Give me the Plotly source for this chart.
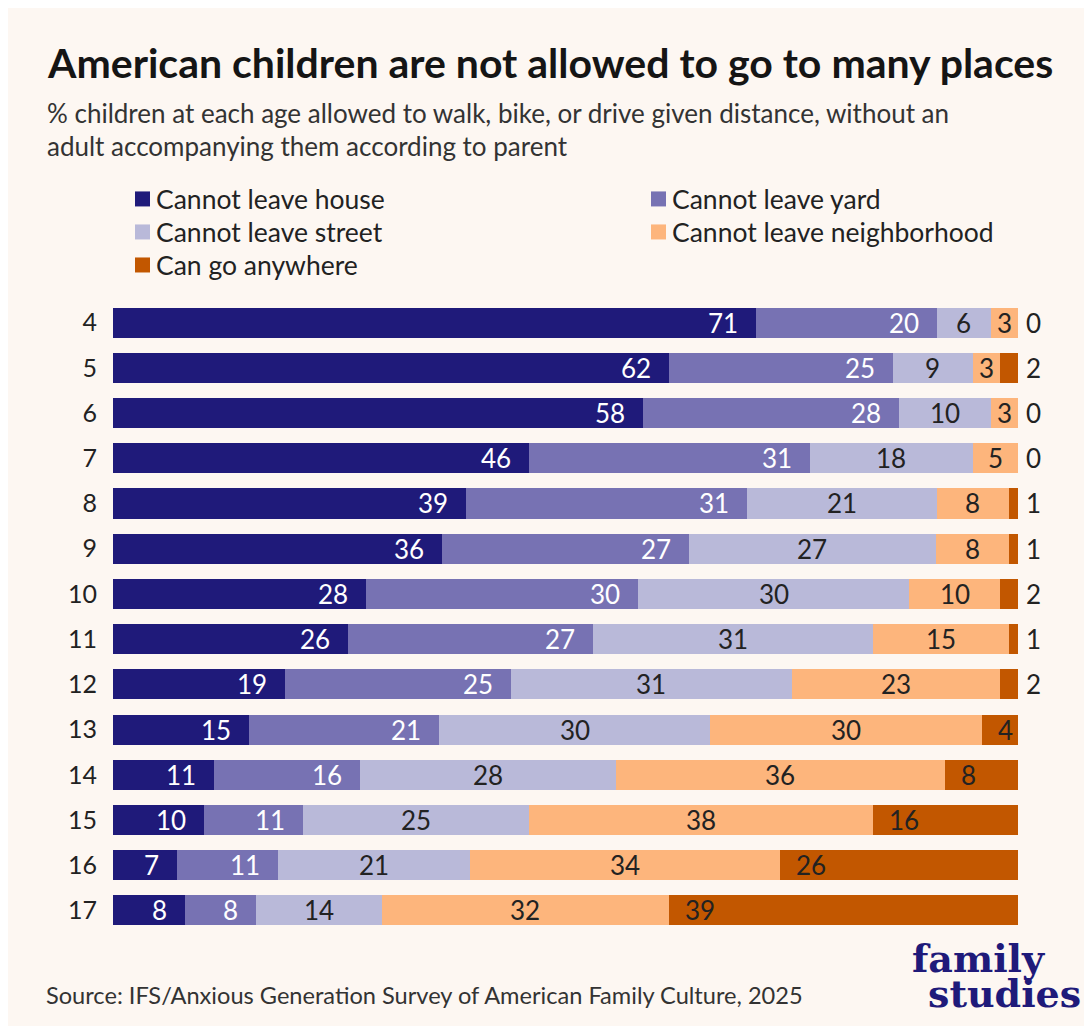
import plotly.graph_objects as go

# ---------------- data ----------------
ages = ["4", "5", "6", "7", "8", "9", "10", "11", "12", "13", "14", "15", "16", "17"]
house = [71, 62, 58, 46, 39, 36, 28, 26, 19, 15, 11, 10, 7, 8]
yard = [20, 25, 28, 31, 31, 27, 30, 27, 25, 21, 16, 11, 11, 8]
street = [6, 9, 10, 18, 21, 27, 30, 31, 31, 30, 28, 25, 21, 14]
neighborhood = [3, 3, 3, 5, 8, 8, 10, 15, 23, 30, 36, 38, 34, 32]
anywhere = [0, 2, 0, 0, 1, 1, 2, 1, 2, 4, 8, 16, 26, 39]

series_names = ["Cannot leave house", "Cannot leave yard", "Cannot leave street",
                "Cannot leave neighborhood", "Can go anywhere"]
series_values = [house, yard, street, neighborhood, anywhere]
colors = ["#1f1a7a", "#7772b3", "#b9b9d9", "#fdb57c", "#c25700"]
label_colors = ["#ffffff", "#ffffff", "#222222", "#222222", "#222222"]

title = "<b>American children are not allowed to go to many places</b>"
subtitle_lines = ["% children at each age allowed to walk, bike, or drive given distance, without an",
                  "adult accompanying them according to parent"]
source = "Source: IFS/Anxious Generation Survey of American Family Culture, 2025"

# ---------------- layout geometry ----------------
OFF = 8  # page offset of the figure (body margin)
W, H = 1084, 1018
ML, MR, MT, MB = 105, 74, 292, 93.4
PW, PH = W - ML - MR, H - MT - MB
BG = "#fdf7f2"
FONT = "Lato"


def px(x):
    return (x - OFF - ML) / PW


def py(y):
    return (H - MB - (y - OFF)) / PH


totals = [sum(v[i] for v in series_values) for i in range(len(ages))]
shares = [[v[i] / totals[i] * 100 for i in range(len(ages))] for v in series_values]

fig = go.Figure()
for name, sh, col in zip(series_names, shares, colors):
    fig.add_trace(go.Bar(y=ages, x=sh, orientation="h", name=name,
                         marker=dict(color=col, line=dict(width=0)),
                         showlegend=False, hoverinfo="skip"))

annotations = []
# value labels (y given as category index)
for i, age in enumerate(ages):
    left = 0.0
    for s, vals in enumerate(series_values):
        w = shares[s][i]
        right = left + w
        v = vals[i]
        txt = str(v)
        f = dict(family=FONT, size=26, color=label_colors[s])
        if s in (0, 1):
            annotations.append(dict(x=right, y=i, xref="x", yref="y", text=txt, showarrow=False,
                                    xanchor="right", xshift=-16, font=f))
        elif s in (2, 3):
            annotations.append(dict(x=(left + right) / 2, y=i, xref="x", yref="y", text=txt,
                                    showarrow=False, xanchor="center", font=f))
        else:
            if v >= 4:
                annotations.append(dict(x=left, y=i, xref="x", yref="y", text=txt, showarrow=False,
                                        xanchor="left", xshift=14, font=f))
            else:
                annotations.append(dict(x=100, y=i, xref="x", yref="y", text=txt, showarrow=False,
                                        xanchor="left", xshift=6, font=f))
        left = right

# title, subtitle, source
annotations.append(dict(x=px(45), y=py(63), xref="paper", yref="paper", text=title, showarrow=False,
                        xanchor="left", yanchor="middle",
                        font=dict(family=FONT, size=41, color="#151515")))
for k, line in enumerate(subtitle_lines):
    annotations.append(dict(x=px(45), y=py(113 + 33 * k), xref="paper", yref="paper", text=line,
                            showarrow=False, xanchor="left", yanchor="middle",
                            font=dict(family=FONT, size=26, color="#333333")))
annotations.append(dict(x=px(44), y=py(995), xref="paper", yref="paper", text=source, showarrow=False,
                        xanchor="left", yanchor="middle", font=dict(family=FONT, size=23.6, color="#333333")))
# logo
annotations.append(dict(x=px(910), y=py(958), xref="paper", yref="paper", text="<b>family</b>",
                        showarrow=False, xanchor="left", yanchor="middle",
                        font=dict(family="DejaVu Serif", size=38, color="#1f1a7a")))
annotations.append(dict(x=px(926), y=py(993), xref="paper", yref="paper", text="<b>studies</b>",
                        showarrow=False, xanchor="left", yanchor="middle",
                        font=dict(family="DejaVu Serif", size=38, color="#1f1a7a")))

# manual legend
shapes = []
legend_pos = [(135, 199), (651, 199), (135, 232), (651, 232), (135, 265)]
for (lx, ly), name, col in zip(legend_pos, series_names, colors):
    shapes.append(dict(type="rect", xref="paper", yref="paper",
                       x0=px(lx), x1=px(lx + 15), y0=py(ly + 7.5), y1=py(ly - 7.5),
                       fillcolor=col, line=dict(width=0)))
    annotations.append(dict(x=px(lx + 19), y=py(ly), xref="paper", yref="paper", text=name,
                            showarrow=False, xanchor="left", yanchor="middle",
                            font=dict(family=FONT, size=26.5, color="#222222")))

fig.update_layout(
    width=W, height=H,
    margin=dict(l=ML, r=MR, t=MT, b=MB, pad=0),
    paper_bgcolor=BG, plot_bgcolor=BG,
    barmode="stack", bargap=0.335,
    xaxis=dict(range=[0, 100], visible=False, fixedrange=True),
    yaxis=dict(categoryorder="array", categoryarray=ages, autorange="reversed",
               showgrid=False, zeroline=False, showline=False, ticks="",
               ticklabelstandoff=15,
               tickfont=dict(family=FONT, size=25, color="#222222")),
    annotations=annotations, shapes=shapes,
    showlegend=False,
)

fig.write_html("out.html")
